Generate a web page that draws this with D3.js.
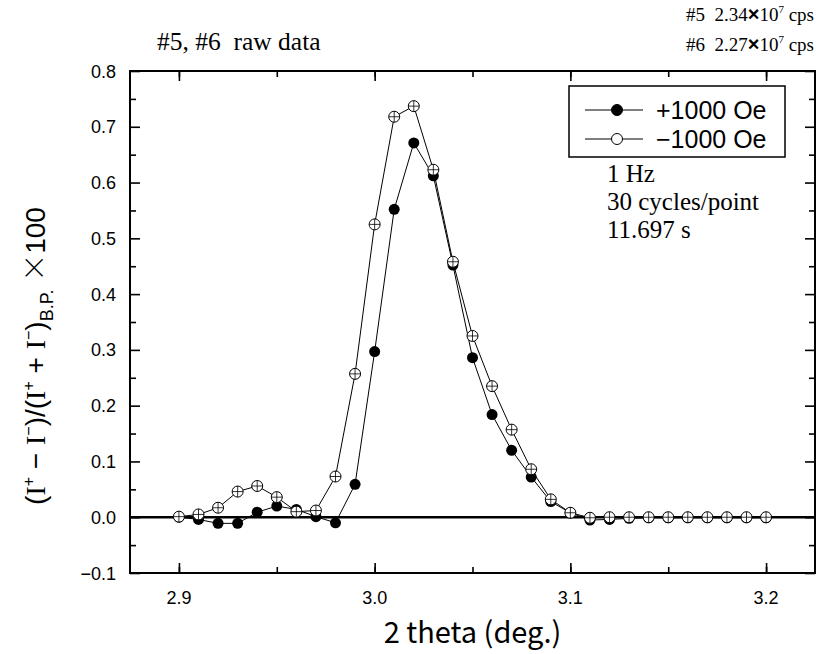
<!DOCTYPE html>
<script src="https://d3js.org/d3.v7.min.js"></script>
<body style="margin:0;background:#fff">
<script>
const theta = [2.90, 2.91, 2.92, 2.93, 2.94, 2.95, 2.96, 2.97, 2.98, 2.99,
               3.00, 3.01, 3.02, 3.03, 3.04, 3.05, 3.06, 3.07, 3.08, 3.09,
               3.10, 3.11, 3.12, 3.13, 3.14, 3.15, 3.16, 3.17, 3.18, 3.19, 3.20];
const plusField = [0.000, -0.004, -0.011, -0.011, 0.009, 0.020, 0.014, 0.001, -0.010, 0.059,
                   0.297, 0.552, 0.671, 0.612, 0.452, 0.286, 0.184, 0.120, 0.072, 0.028,
                   0.008, -0.005, -0.004, -0.002, -0.001, -0.001, -0.001, -0.001, -0.001, -0.001, -0.001];
const minusField = [0.001, 0.005, 0.017, 0.046, 0.056, 0.036, 0.010, 0.012, 0.073, 0.257,
                    0.525, 0.718, 0.737, 0.623, 0.458, 0.325, 0.235, 0.157, 0.086, 0.032,
                    0.008, -0.001, 0.000, 0.000, 0.000, 0.000, 0.000, 0.000, 0.000, 0.000, 0.000];
const legendLabels = ["+1000 Oe", "\u22121000 Oe"];
const xTicks = [2.9, 3.0, 3.1, 3.2];
const yTicks = [-0.1, 0.0, 0.1, 0.2, 0.3, 0.4, 0.5, 0.6, 0.7, 0.8];
const infoLines = ["1 Hz", "30 cycles/point", "11.697 s"];

const W = 817, H = 654;
const margin = {top: 71, right: 2, bottom: 81, left: 130};
const w = W - margin.left - margin.right;
const h = H - margin.top - margin.bottom;

const svg = d3.select("body").append("svg")
    .attr("width", W)
    .attr("height", H)
    .style("display", "block");

const g = svg.append("g").attr("transform", `translate(${margin.left},${margin.top})`);

const x = d3.scaleLinear().domain([2.875, 3.225]).range([0, w]);
const y = d3.scaleLinear().domain([-0.1, 0.8]).range([h, 0]);

const sans = "'Liberation Sans', Arial, sans-serif";
const serif = "'Liberation Serif', 'Times New Roman', serif";

// Ticks pointing inward on all four sides.
const xMinor = d3.range(2.90, 3.2001, 0.05);
const yMinor = d3.range(-0.05, 0.8, 0.1);

g.append("g").attr("transform", `translate(0,${h})`)
    .call(d3.axisTop(x).tickValues(xTicks).tickSize(10).tickFormat(""));
g.append("g").attr("transform", `translate(0,${h})`)
    .call(d3.axisTop(x).tickValues(xMinor).tickSize(6).tickFormat(""));
g.append("g")
    .call(d3.axisBottom(x).tickValues(xTicks).tickSize(10).tickFormat(""));
g.append("g")
    .call(d3.axisBottom(x).tickValues(xMinor).tickSize(6).tickFormat(""));
g.append("g")
    .call(d3.axisRight(y).tickValues(yTicks).tickSize(10).tickFormat(""));
g.append("g")
    .call(d3.axisRight(y).tickValues(yMinor).tickSize(6).tickFormat(""));
g.append("g").attr("transform", `translate(${w},0)`)
    .call(d3.axisLeft(y).tickValues(yTicks).tickSize(10).tickFormat(""));
g.append("g").attr("transform", `translate(${w},0)`)
    .call(d3.axisLeft(y).tickValues(yMinor).tickSize(6).tickFormat(""));
g.selectAll(".domain").remove();
g.selectAll(".tick line").attr("stroke", "#000").attr("stroke-width", 1.6);

// tick labels
g.selectAll(".xlab").data(xTicks).join("text")
    .attr("x", d => x(d)).attr("y", h + 31)
    .attr("text-anchor", "middle")
    .style("font-family", sans).style("font-size", "18px")
    .text(d => d.toFixed(1));
g.selectAll(".ylab").data(yTicks).join("text")
    .attr("x", -14).attr("y", d => y(d) + 6.5)
    .attr("text-anchor", "end")
    .style("font-family", sans).style("font-size", "18px")
    .text(d => d < 0 ? "\u2212" + Math.abs(d).toFixed(1) : d.toFixed(1));

// frame
g.append("rect").attr("width", w).attr("height", h)
    .attr("fill", "none").attr("stroke", "#000").attr("stroke-width", 2);

// zero line
g.append("line")
    .attr("x1", 0).attr("x2", w).attr("y1", y(0)).attr("y2", y(0))
    .attr("stroke", "#000").attr("stroke-width", 2.5);

const line = d3.line().x(d => x(d[0])).y(d => y(d[1]));
const plusData = theta.map((t, i) => [t, plusField[i]]);
const minusData = theta.map((t, i) => [t, minusField[i]]);

function openMarker(sel, r) {
    sel.append("circle").attr("r", r).attr("fill", "#fff")
        .attr("stroke", "#000").attr("stroke-width", 1);
    sel.append("line").attr("x1", -r).attr("x2", r)
        .attr("stroke", "#000").attr("stroke-width", 0.8);
    sel.append("line").attr("y1", -r).attr("y2", r)
        .attr("stroke", "#000").attr("stroke-width", 0.8);
}

// +1000 Oe series (filled)
g.append("path").datum(plusData).attr("d", line)
    .attr("fill", "none").attr("stroke", "#000").attr("stroke-width", 1);
g.selectAll(".pp").data(plusData).join("circle")
    .attr("cx", d => x(d[0])).attr("cy", d => y(d[1])).attr("r", 5.5)
    .attr("fill", "#000");

// -1000 Oe series (open)
g.append("path").datum(minusData).attr("d", line)
    .attr("fill", "none").attr("stroke", "#000").attr("stroke-width", 1);
g.selectAll(".mp").data(minusData).join("g")
    .attr("transform", d => `translate(${x(d[0])},${y(d[1])})`)
    .each(function() { openMarker(d3.select(this), 5.5); });

// legend
const lg = svg.append("g").attr("transform", "translate(569,86)");
lg.append("rect").attr("width", 216).attr("height", 71)
    .attr("fill", "#fff").attr("stroke", "#000").attr("stroke-width", 1.5);
legendLabels.forEach((lab, i) => {
    const ly = 24 + i * 29;
    lg.append("line").attr("x1", 16).attr("x2", 74).attr("y1", ly).attr("y2", ly)
        .attr("stroke", "#000").attr("stroke-width", 1);
    lg.append("circle").attr("cx", 48).attr("cy", ly).attr("r", 5.5)
        .attr("fill", i === 0 ? "#000" : "#fff").attr("stroke", "#000").attr("stroke-width", 1);
    lg.append("text").attr("x", 87).attr("y", ly + 8.5)
        .style("font-family", sans).style("font-size", "25px")
        .text(lab);
});

// run conditions
svg.selectAll(".info").data(infoLines).join("text")
    .attr("x", 607).attr("y", (d, i) => 182 + i * 28)
    .style("font-family", serif).style("font-size", "25px")
    .text(d => d);

// title
svg.append("text").attr("x", 157).attr("y", 50)
    .style("font-family", serif).style("font-size", "25.5px")
    .attr("xml:space", "preserve")
    .text("#5, #6  raw data");

// count rates, top right
const rates = [["#5", "2.34"], ["#6", "2.27"]];
rates.forEach((r, i) => {
    const t = svg.append("text").attr("x", 814).attr("y", 21 + i * 30)
        .attr("text-anchor", "end")
        .style("font-family", serif).style("font-size", "19px")
        .attr("xml:space", "preserve");
    t.append("tspan").text(r[0] + "  " + r[1]);
    t.append("tspan").style("font-family", sans).style("font-size", "20px").style("font-weight", "bold").text("\u00d7");
    t.append("tspan").text("10");
    t.append("tspan").attr("dy", -8).style("font-size", "11px").text("7");
    t.append("tspan").attr("dy", 8).text(" cps");
});

// axis titles
svg.append("text")
    .attr("x", margin.left + w / 2).attr("y", 643)
    .attr("text-anchor", "middle")
    .style("font-family", "'Noto Sans CJK JP', " + sans).style("font-size", "29px")
    .text("2 theta (deg.)");

const yt = svg.append("text")
    .attr("transform", "translate(45,356) rotate(-90)")
    .attr("text-anchor", "middle")
    .attr("xml:space", "preserve")
    .style("font-family", sans).style("font-size", "28px");
const parts = [
    ["(", 0], ["I", 0, "serif"], ["+", -11], [" \u2212 ", 11], ["I", 0, "serif"], ["\u2212", -11],
    [")/(", 11], ["I", 0, "serif"], ["+", -11], [" + ", 11], ["I", 0, "serif"], ["\u2212", -11],
    [")", 11], ["B.P.", 8], [" ", -8], ["\u00d7", 0, "cjk"], ["100", 0]
];
parts.forEach(p => {
    const s = yt.append("tspan").attr("dy", p[1]).text(p[0]);
    if (p[2] === "serif") s.style("font-family", serif);
    if (p[2] === "cjk") s.style("font-family", "'Noto Sans CJK JP', sans-serif").style("font-weight", "300");
    if ((p[0] === "+" || p[0] === "\u2212") && p[1] < 0) s.style("font-size", "16px");
    if (p[0] === "B.P.") s.style("font-size", "18px");
});
</script>
</body>
</html>
